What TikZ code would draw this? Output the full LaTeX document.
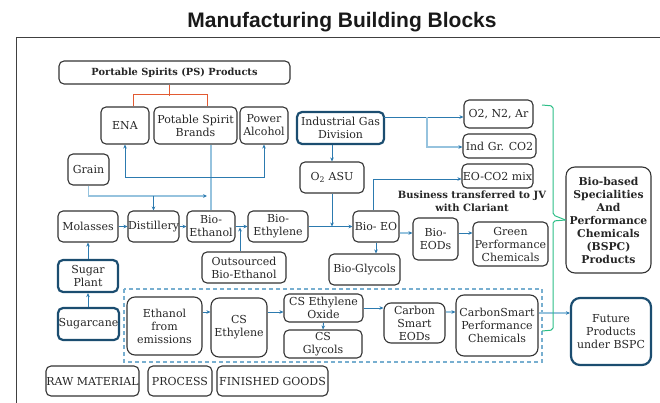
\documentclass[tikz,border=0pt]{standalone}
\usepackage{fontspec}
\setmainfont{DejaVu Serif}
\newfontfamily\titlefont{Liberation Sans}
\usetikzlibrary{arrows.meta}
\definecolor{boxc}{RGB}{51,51,51}
\definecolor{navy}{RGB}{27,77,112}
\definecolor{mb}{RGB}{44,122,175}
\definecolor{lbl}{RGB}{150,195,222}
\definecolor{dsh}{RGB}{120,175,208}
\definecolor{org}{RGB}{226,90,50}
\definecolor{grn}{RGB}{45,190,135}
\tikzset{
  sz/.style 2 args={minimum width=#1pt, minimum height=#2pt},
  bx/.style={draw=boxc, line width=1.1pt, rounded corners=5pt, align=center, inner sep=0pt,
     font=\fontsize{11}{13}\selectfont, text=black!85},
  nbx/.style={bx, draw=navy, line width=2.2pt},
  bbx/.style={bx, font=\bfseries\fontsize{10.8}{13}\selectfont},
  arr/.style={draw=mb, line width=0.9pt, -{Stealth[length=4pt,width=3.6pt]}},
  arrl/.style={draw=lbl, line width=1.5pt, -{Stealth[length=4pt,width=3.6pt,color=mb]}},
  ln/.style={draw=mb, line width=0.9pt},
  lnl/.style={draw=lbl, line width=1.5pt},
  obr/.style={draw=org, line width=1pt},
  gbr/.style={draw=grn, line width=1pt, rounded corners=2pt},
}
\begin{document}
\begin{tikzpicture}[x=1pt,y=-1pt]
\useasboundingbox (0,0) rectangle (660,403);
% title and frame
\node[font=\titlefont\bfseries\fontsize{21}{24}\selectfont, text=black!90] (title) at (342,22) {Manufacturing Building Blocks};
\draw[black!75, line width=0.8pt] (16,403) -- (16,37) -- (660,37);
% dashed group
\draw[dsh, line width=1.2pt, dash pattern=on 4pt off 3pt] (124,289) rectangle (542,362);
% boxes
\node[bx, sz={231}{23}, font=\bfseries\fontsize{9.8}{11}\selectfont] (ps) at (174.5,72.5) {Portable Spirits (PS) Products};
\node[bx, sz={48}{37}] (ena) at (125,125.5) {ENA};
\node[bx, sz={83}{37}] (psb) at (195.5,125.5) {Potable Spirit\\Brands};
\node[bx, sz={48}{37}] (pa) at (264,125.5) {Power\\Alcohol};
\node[nbx, sz={87}{32}] (igd) at (340.5,128) {Industrial Gas\\Division};
\node[bx, sz={69}{28}] (o2n2) at (498.5,114) {O2, N2, Ar};
\node[bx, sz={73}{24}] (indco2) at (499.5,146) {Ind Gr. CO2};
\node[bx, sz={71}{24}] (eoco2) at (497.5,176) {EO-CO2 mix};
\node[bx, sz={41}{31}] (grain) at (88.5,169.5) {Grain};
\node[bx, sz={64}{31}] (o2asu) at (332,177.5) {O\textsubscript{2} ASU};
\node[font=\bfseries\fontsize{10}{13}\selectfont, align=center, text=black!85] (biz) at (472,201.5) {Business transferred to JV\\with Clariant};
\node[bx, sz={60}{31}] (molasses) at (88,226.5) {Molasses};
\node[bx, sz={51}{31}] (distillery) at (153.5,226.5) {Distillery};
\node[bx, sz={48}{31}] (bioeth) at (211,226.5) {Bio-\\Ethanol};
\node[bx, sz={60}{31}] (bioethy) at (278,226.5) {Bio-\\Ethylene};
\node[bx, sz={46}{31}] (bioeo) at (376,226.5) {Bio- EO};
\node[bx, sz={45}{42}] (bioeods) at (435.5,239) {Bio-\\EODs};
\node[bx, sz={75}{44}] (green) at (510.5,244) {Green\\Performance\\Chemicals};
\node[bx, sz={71}{31}] (bioglyc) at (364.5,269.5) {Bio-Glycols};
\node[bx, sz={84}{31}] (outs) at (244,267.5) {Outsourced\\Bio-Ethanol};
\node[bbx, sz={85}{106}, rounded corners=9pt] (bspc) at (608.5,220) {Bio-based\\Specialities\\And\\Performance\\Chemicals\\(BSPC)\\Products};
\node[nbx, sz={60}{32}] (sugarplant) at (88,276) {Sugar\\Plant};
\node[nbx, sz={61}{32}] (sugarcane) at (88.5,324) {Sugarcane};
\node[bx, sz={75}{58}, rounded corners=8pt] (efe) at (164.5,326) {Ethanol\\from\\emissions};
\node[bx, sz={56}{59}, rounded corners=8pt] (csethy) at (239,327.5) {CS\\Ethylene};
\node[bx, sz={79}{28}] (cseo) at (323.5,308) {CS Ethylene\\Oxide};
\node[bx, sz={78}{28}] (csglyc) at (323,344) {CS\\Glycols};
\node[bx, sz={61}{40}, rounded corners=7pt] (cseods) at (414.5,323) {Carbon\\Smart\\EODs};
\node[bx, sz={82}{61}, rounded corners=8pt] (cspc) at (497,325.5) {CarbonSmart\\Performance\\Chemicals};
\node[nbx, sz={80}{67}, rounded corners=9pt] (future) at (611,331.5) {Future\\Products\\under BSPC};
\node[bx, sz={93}{30}] (raw) at (92.5,381) {RAW MATERIAL};
\node[bx, sz={64}{30}] (process) at (180,381) {PROCESS};
\node[bx, sz={111}{30}] (fg) at (272.5,381) {FINISHED GOODS};
% orange bracket
\draw[obr] ([xshift=8pt]ena.north) -- ++(0,-12) -| ([xshift=11.5pt]psb.north);
\draw[obr] ([xshift=-5.5pt]ps.south) -- ++(0,11);
% bio-ethanol upward distribution
\coordinate (j1) at (211,177);
\draw[lnl] (bioeth.north) -- (bioeth.north |- psb.south);
\draw[arr] (j1) -| (ena.south);
\draw[arr] (j1) -| (pa.south);
% grain
\coordinate (j2) at (207,196);
\coordinate (j3) at (153.5,196);
\draw[arrl] (grain.south) |- (j2);
\draw[arr] (j3) -- (distillery.north);
% main chain
\draw[arr] (molasses) -- (distillery);
\draw[arr] (distillery) -- (bioeth);
\draw[arr] (bioeth) -- (bioethy);
\draw[arr] ([xshift=-4pt]outs.north) -- ++(0,-24);
\draw[arr] (bioethy) -- (bioeo);
\draw[arr] (o2asu.south) -- (o2asu.south |- bioeo.west);
\draw[arr] (o2asu.north |- igd.south) -- (o2asu.north);
% industrial gas
\coordinate (g1) at (384,117);
\coordinate (g2) at (427,117);
\draw[arr] (g1) -- (g1 -| o2n2.west);
\draw[arrl] (g2) |- ([yshift=-1pt]indco2.west);
% bio-EO outputs
\draw[arr] ([xshift=-3pt]bioeo.north) |- ([yshift=-3pt]eoco2.west);
\path ([yshift=-6.5pt]bioeo.east) coordinate (e1);
\draw[arrl] (e1) -- (e1 -| bioeods.west);
\draw[arr] (e1 -| bioeods.east) -- (e1 -| green.west);
\draw[arr] (bioeo.south) -- (bioeo.south |- bioglyc.north);
% sugar
\draw[arr] (sugarcane.north -| sugarplant.south) -- (sugarplant.south);
\draw[arr] (sugarplant.north) -- (molasses.south);
% carbon smart chain
\path ([yshift=14pt]efe.east) coordinate (c1);
\draw[arr] (c1) -- (c1 -| csethy.west);
\draw[arr] (c1 -| csethy.east) -- (c1 -| cseo.west);
\draw[arr] (cseo.south) -- (csglyc.north);
\draw[arr] (cseo.east) -- (cseo.east -| cseods.west);
\draw[arrl] (c1 -| cseods.east) -- (c1 -| cspc.west);
\draw[arrl] ([yshift=-1pt]c1 -| cspc.east) -- ([yshift=-1pt]c1 -| future.west);
% green brace
\draw[gbr] (542,105) -- (553,106) -- (553,215) -- (bspc.west);
\draw[gbr] (bspc.west) -- (553,221) -- (553,330) -- (542,331);
\end{tikzpicture}
\end{document}
